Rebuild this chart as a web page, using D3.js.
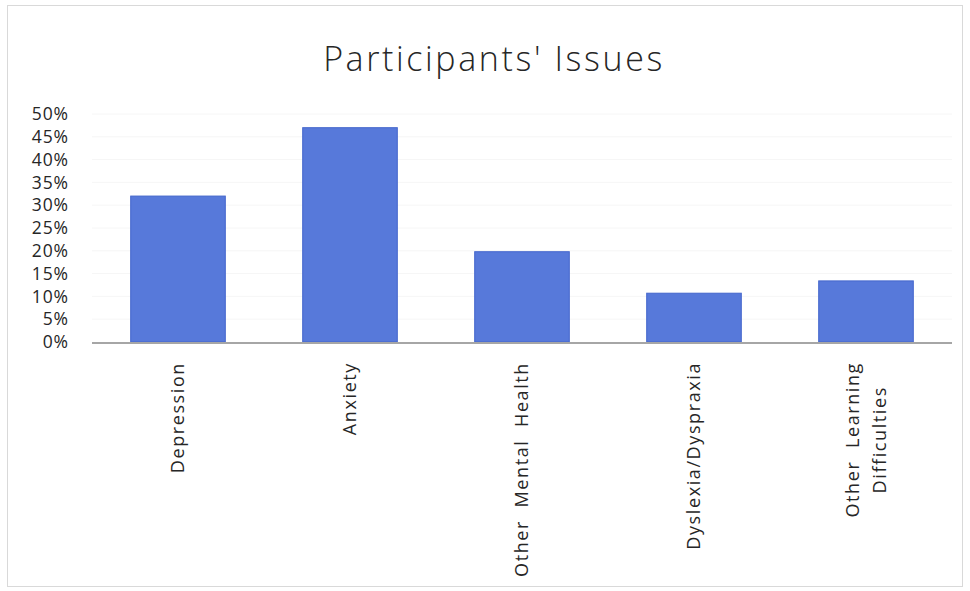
<!DOCTYPE html>
<html>
<head>
<meta charset="utf-8">
<script src="https://cdn.jsdelivr.net/npm/d3@7"></script>
<style>
  html, body { margin: 0; padding: 0; background: #fff; }
  svg { display: block; }
  .cat-label { white-space: pre; }
</style>
</head>
<body>
<svg id="chart" width="970" height="591"></svg>
<script>
// Share of participants reporting each issue
const categories = ["Depression", "Anxiety", "Other Mental Health", "Dyslexia/Dyspraxia", "Other Learning Difficulties"];
const values = [0.32, 0.47, 0.198, 0.107, 0.134];
const tickValues = [0, 0.05, 0.10, 0.15, 0.20, 0.25, 0.30, 0.35, 0.40, 0.45, 0.50];
const labelLines = [["Depression"], ["Anxiety"], ["Other  Mental  Health"], ["Dyslexia/Dyspraxia"], ["Other  Learning", "Difficulties"]];

const svg = d3.select("#chart");
const W = 970, H = 591;
const margin = { left: 92, right: 18, top: 114, bottom: 249 };
const font = "'Open Sans', 'DejaVu Sans', sans-serif";

// outer frame
svg.append("rect")
  .attr("x", 7.5).attr("y", 5.5)
  .attr("width", W - 15).attr("height", H - 10)
  .attr("fill", "#fff").attr("stroke", "#d9d9d9").attr("stroke-width", 1);

// title
svg.append("text")
  .attr("x", 494).attr("y", 71)
  .attr("text-anchor", "middle")
  .attr("font-family", font)
  .attr("font-weight", 300)
  .attr("font-size", 34)
  .attr("letter-spacing", 2.6)
  .attr("fill", "#262626")
  .text("Participants' Issues");

const x = d3.scaleBand()
  .domain(categories)
  .range([margin.left, W - margin.right])
  .paddingInner(0.45)
  .paddingOuter(0.225);

const y = d3.scaleLinear()
  .domain([0, 0.5])
  .range([H - margin.bottom, margin.top]);

// faint gridlines
svg.append("g")
  .selectAll("line")
  .data(tickValues.slice(1))
  .join("line")
  .attr("x1", margin.left).attr("x2", W - margin.right)
  .attr("y1", d => y(d)).attr("y2", d => y(d))
  .attr("stroke", "#f6f6f6").attr("stroke-width", 1);

// y axis labels
const yAxis = d3.axisLeft(y)
  .tickValues(tickValues)
  .tickFormat(d3.format(".0%"))
  .tickSize(0)
  .tickPadding(0);

const gy = svg.append("g")
  .attr("transform", `translate(69,0)`)
  .call(yAxis);
gy.select(".domain").remove();
gy.selectAll("text")
  .attr("font-family", font)
  .attr("font-size", 17.5)
  .attr("letter-spacing", 0.9)
  .attr("fill", "#262626");

// bars
svg.append("g")
  .selectAll("rect")
  .data(categories)
  .join("rect")
  .attr("x", d => x(d))
  .attr("y", (d, i) => y(values[i]))
  .attr("width", x.bandwidth())
  .attr("height", (d, i) => y(0) - y(values[i]))
  .attr("fill", "#5779da")
  .attr("stroke", "#4466cc")
  .attr("stroke-width", 1);

// baseline
svg.append("line")
  .attr("x1", margin.left).attr("x2", W - margin.right)
  .attr("y1", y(0) + 1).attr("y2", y(0) + 1)
  .attr("stroke", "#a6a6a6").attr("stroke-width", 2);

// rotated category labels, top-aligned below the axis, multi-line blocks centred
const xAxis = d3.axisBottom(x).tickSize(0).tickFormat("");
const gx = svg.append("g")
  .attr("transform", `translate(0,${y(0)})`)
  .call(xAxis);
gx.select(".domain").remove();

const gap = 20;
gx.selectAll(".tick").each(function(d, i) {
  const lines = labelLines[i];
  const t = d3.select(this).append("text")
    .attr("class", "cat-label")
    .attr("transform", "rotate(-90)")
    .attr("font-family", font)
    .attr("font-size", 18)
    .attr("letter-spacing", 1.6)
    .attr("fill", "#262626");
  const n = lines.length;
  const spans = lines.map((ln, k) => t.append("tspan")
    .attr("y", (k - (n - 1) / 2) * 27 + 6)
    .attr("text-anchor", "middle")
    .text(ln));
  const maxLen = d3.max(spans, s => s.node().getComputedTextLength());
  spans.forEach(s => s.attr("x", -(gap + maxLen / 2)));
});
</script>
</body>
</html>
